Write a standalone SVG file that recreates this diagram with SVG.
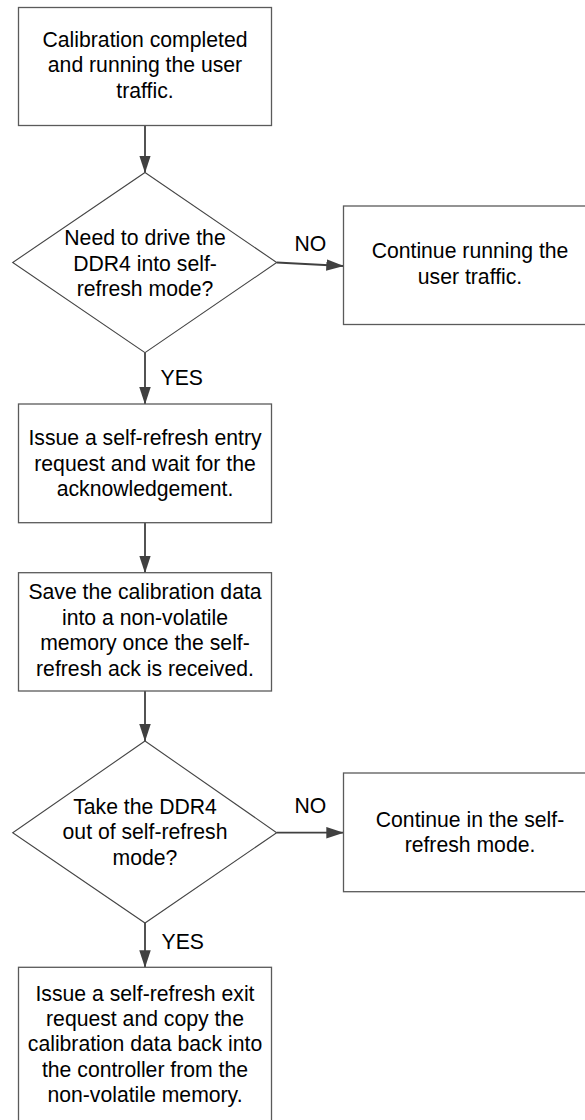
<svg xmlns="http://www.w3.org/2000/svg" width="585" height="1120" viewBox="0 0 585 1120">
  <defs>
    <marker id="arrow" markerUnits="userSpaceOnUse" markerWidth="18" markerHeight="12" refX="17" refY="5.75" orient="auto">
      <path d="M0,0 L17.5,5.75 L0,11.5 z" fill="#404040"/>
    </marker>
    <style>
      .box { fill: #ffffff; stroke: #5a5a5a; stroke-width: 1.3; }
      .dec { fill: #ffffff; stroke: #454545; stroke-width: 1.1; }
      .lbl { font-family: "Liberation Sans", Arial, sans-serif; font-size: 21.2px; fill: #000000; text-anchor: middle; }
      .tag { font-family: "Liberation Sans", Arial, sans-serif; font-size: 21.2px; fill: #000000; }
      .flow { fill: none; stroke: #404040; stroke-width: 1.8; marker-end: url(#arrow); }
    </style>
  </defs>
  <rect width="585" height="1120" fill="#ffffff"/>

  <!-- connectors -->
  <g id="connectors">
    <line class="flow" x1="145" y1="125.5" x2="145" y2="172.5"/>
    <line class="flow" x1="276.7" y1="262.5" x2="343.3" y2="266"/>
    <line class="flow" x1="145" y1="352.7" x2="145" y2="404"/>
    <line class="flow" x1="145" y1="522.7" x2="145" y2="572.7"/>
    <line class="flow" x1="145" y1="691" x2="145" y2="741"/>
    <line class="flow" x1="276.7" y1="832.7" x2="343.3" y2="832.7"/>
    <line class="flow" x1="145" y1="923" x2="145" y2="967.3"/>
    <text class="tag" x="294.5" y="251">NO</text>
    <text class="tag" x="160.5" y="385">YES</text>
    <text class="tag" x="294.5" y="813.3">NO</text>
    <text class="tag" x="161.5" y="949">YES</text>
  </g>

  <!-- start: calibration done -->
  <g id="start">
    <rect class="box" x="18.5" y="7.5" width="253" height="118"/>
    <text class="lbl" x="145" y="46.7">Calibration completed</text>
    <text class="lbl" x="145" y="72.2">and running the user</text>
    <text class="lbl" x="145" y="97.7">traffic.</text>
  </g>

  <!-- decision: enter self-refresh -->
  <g id="decision-enter">
    <polygon class="dec" points="145,172.5 276.7,262.5 145,352.7 12.7,262.5"/>
    <text class="lbl" x="145" y="245">Need to drive the</text>
    <text class="lbl" x="145" y="270.5">DDR4 into self-</text>
    <text class="lbl" x="145" y="296">refresh mode?</text>
  </g>

  <!-- keep running traffic -->
  <g id="keep-traffic">
    <rect class="box" x="343.5" y="206" width="253" height="118.5"/>
    <text class="lbl" x="470" y="258.3">Continue running the</text>
    <text class="lbl" x="470" y="283.6">user traffic.</text>
  </g>

  <!-- self-refresh entry request -->
  <g id="entry-request">
    <rect class="box" x="18.5" y="404" width="253" height="118.7"/>
    <text class="lbl" x="145" y="445">Issue a self-refresh entry</text>
    <text class="lbl" x="145" y="470.5">request and wait for the</text>
    <text class="lbl" x="145" y="496">acknowledgement.</text>
  </g>

  <!-- save calibration data -->
  <g id="save-data">
    <rect class="box" x="18.5" y="572.7" width="253" height="118.3"/>
    <text class="lbl" x="145" y="599.3">Save the calibration data</text>
    <text class="lbl" x="145" y="624.7">into a non-volatile</text>
    <text class="lbl" x="145" y="650.1">memory once the self-</text>
    <text class="lbl" x="145" y="675.5">refresh ack is received.</text>
  </g>

  <!-- decision: exit self-refresh -->
  <g id="decision-exit">
    <polygon class="dec" points="145,741 276.7,832.7 145,923 12.7,832.7"/>
    <text class="lbl" x="145" y="813.5">Take the DDR4</text>
    <text class="lbl" x="145" y="839">out of self-refresh</text>
    <text class="lbl" x="145" y="864.5">mode?</text>
  </g>

  <!-- stay in self-refresh -->
  <g id="stay-refresh">
    <rect class="box" x="343.5" y="773" width="253" height="118.7"/>
    <text class="lbl" x="470" y="826.7">Continue in the self-</text>
    <text class="lbl" x="470" y="851.9">refresh mode.</text>
  </g>

  <!-- self-refresh exit and restore -->
  <g id="exit-restore">
    <rect class="box" x="18.5" y="967.3" width="253" height="155"/>
    <text class="lbl" x="145" y="1000.7">Issue a self-refresh exit</text>
    <text class="lbl" x="145" y="1026">request and copy the</text>
    <text class="lbl" x="145" y="1051.3">calibration data back into</text>
    <text class="lbl" x="145" y="1076.6">the controller from the</text>
    <text class="lbl" x="145" y="1101.9">non-volatile memory.</text>
  </g>
</svg>
